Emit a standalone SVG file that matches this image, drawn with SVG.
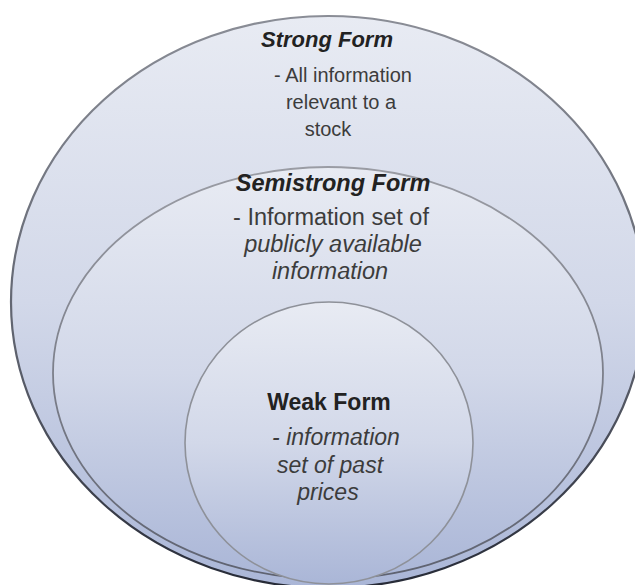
<svg xmlns="http://www.w3.org/2000/svg" width="635" height="585" viewBox="0 0 635 585">
  <defs>
    <linearGradient id="fillGrad" x1="0" y1="0" x2="0" y2="1">
      <stop offset="0" stop-color="#e8ebf3"/>
      <stop offset="0.5" stop-color="#d2d8e9"/>
      <stop offset="1" stop-color="#aab6d7"/>
    </linearGradient>
    <linearGradient id="outerStroke" x1="0" y1="0" x2="0" y2="1">
      <stop offset="0" stop-color="#8a8d96"/>
      <stop offset="0.6" stop-color="#5c606c"/>
      <stop offset="1" stop-color="#262a36"/>
    </linearGradient>
    <linearGradient id="midStroke" x1="0" y1="0" x2="0" y2="1">
      <stop offset="0" stop-color="#9a9ca4"/>
      <stop offset="1" stop-color="#5e6270"/>
    </linearGradient>
  </defs>
  <style>
    .ring { fill: url(#fillGrad); }
    .label { font-family: "Liberation Sans", Arial, sans-serif; fill: #3c3c3c; text-anchor: middle; }
    .title { font-weight: bold; fill: #222; }
    .it { font-style: italic; }
    #strong-form .label { font-size: 20px; }
    #strong-form .title { font-size: 22px; }
    #semistrong-form .label { font-size: 23.5px; }
    #weak-form .label { font-size: 23px; }
  </style>

  <rect width="635" height="585" fill="#ffffff"/>

  <!-- outermost set (right edge runs past the canvas) -->
  <g id="strong-form">
    <ellipse class="ring" cx="328" cy="302" rx="317" ry="286" stroke="url(#outerStroke)" stroke-width="2.2"/>
    <text class="label title it" x="327" y="47">Strong Form</text>
    <text class="label" x="343" y="82">- All information</text>
    <text class="label" x="341" y="109">relevant to a</text>
    <text class="label" x="328" y="136">stock</text>
  </g>

  <!-- middle set -->
  <g id="semistrong-form">
    <ellipse class="ring" cx="328" cy="373" rx="275" ry="206" stroke="url(#midStroke)" stroke-width="1.8"/>
    <text class="label title it" x="333" y="191">Semistrong Form</text>
    <text class="label" x="331" y="225">- Information set of</text>
    <text class="label it" x="333" y="252">publicly available</text>
    <text class="label it" x="330" y="279">information</text>
  </g>

  <!-- innermost set -->
  <g id="weak-form">
    <ellipse class="ring" cx="329" cy="443" rx="144" ry="141" stroke="#8e9199" stroke-width="1.6"/>
    <text class="label title" x="329" y="410">Weak Form</text>
    <text class="label it" x="336" y="445">- information</text>
    <text class="label it" x="330" y="473">set of past</text>
    <text class="label it" x="328" y="500">prices</text>
  </g>

  <g id="connectors"/>
</svg>
